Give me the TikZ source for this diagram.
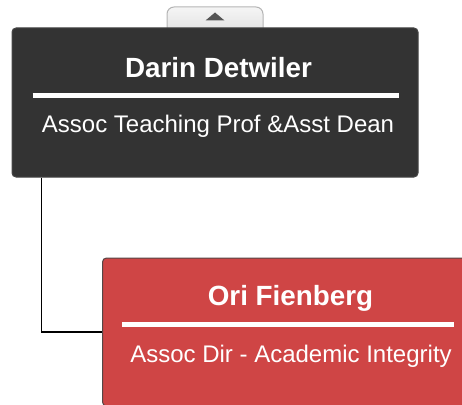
\documentclass[tikz,border=0pt]{standalone}
\usepackage{fontspec}
\setmainfont{Liberation Sans}
\usetikzlibrary{calc, positioning}
\definecolor{chartDark}{RGB}{51, 51, 51}
\definecolor{chartDarkEdge}{RGB}{70, 70, 70}
\definecolor{chartRed}{RGB}{207, 69, 69}
\definecolor{chartRedEdge}{RGB}{85, 70, 70}
\definecolor{tabEdge}{RGB}{180, 180, 180}
\definecolor{tabArrow}{RGB}{85, 85, 85}

\begin{document}
\begin{tikzpicture}[x=1pt, y=1pt, line cap=round,
		card/.style={rounded corners=4pt, line width=1pt, inner sep=0pt},
		cardName/.style={text=white, anchor=base, inner sep=0pt,
			font=\fontsize{27.8}{30}\selectfont\bfseries},
		cardTitle/.style={text=white, anchor=base, inner sep=0pt,
			font=\fontsize{24}{28}\selectfont},
		cardRule/.style={white, line width=5pt, line cap=butt}
	]

	\useasboundingbox (0,0) rectangle (462,-404);
	\clip (0,0) rectangle (462,-404);

	% collapse tab above the top card
	\node[card, rounded corners=7pt, draw=tabEdge, top color=white!96!black, bottom color=white!86!black,
		minimum width=96, minimum height=34] (toggle) at (215,-24) {};
	\fill[tabArrow] ($(toggle.north)+(-9.5,-14)$) -- ($(toggle.north)+(9.5,-14)$) -- ($(toggle.north)+(0,-6)$) -- cycle;

	% top card
	\node[card, fill=chartDark, draw=chartDarkEdge, minimum width=406, minimum height=149] (dean) at (215,-102.5) {};
	\node[cardName] (deanName) at (218.5,-77.5) {Darin Detwiler};
	\draw[cardRule] ($(dean.north west)+(21,-67.5)$) -- ($(dean.north east)+(-20,-67.5)$);
	\node[cardTitle] (deanTitle) at (218,-132) {Assoc Teaching Prof \&Asst Dean};

	% lower card
	\node[card, fill=chartRed, draw=chartRedEdge, minimum width=369, minimum height=148] (ori) at (287,-332) {};
	\node[cardName] (oriName) at (290.5,-305) {Ori Fienberg};
	\draw[cardRule] ($(ori.north west)+(20,-67)$) -- ($(ori.north west)+(352,-67)$);
	\node[cardTitle] (oriTitle) at (291,-362) {Assoc Dir - Academic Integrity};

	% connector
	\draw[line width=1.6pt, line cap=butt] ($(dean.south west)+(30,0)$) |- (ori.west);

\end{tikzpicture}
\end{document}
